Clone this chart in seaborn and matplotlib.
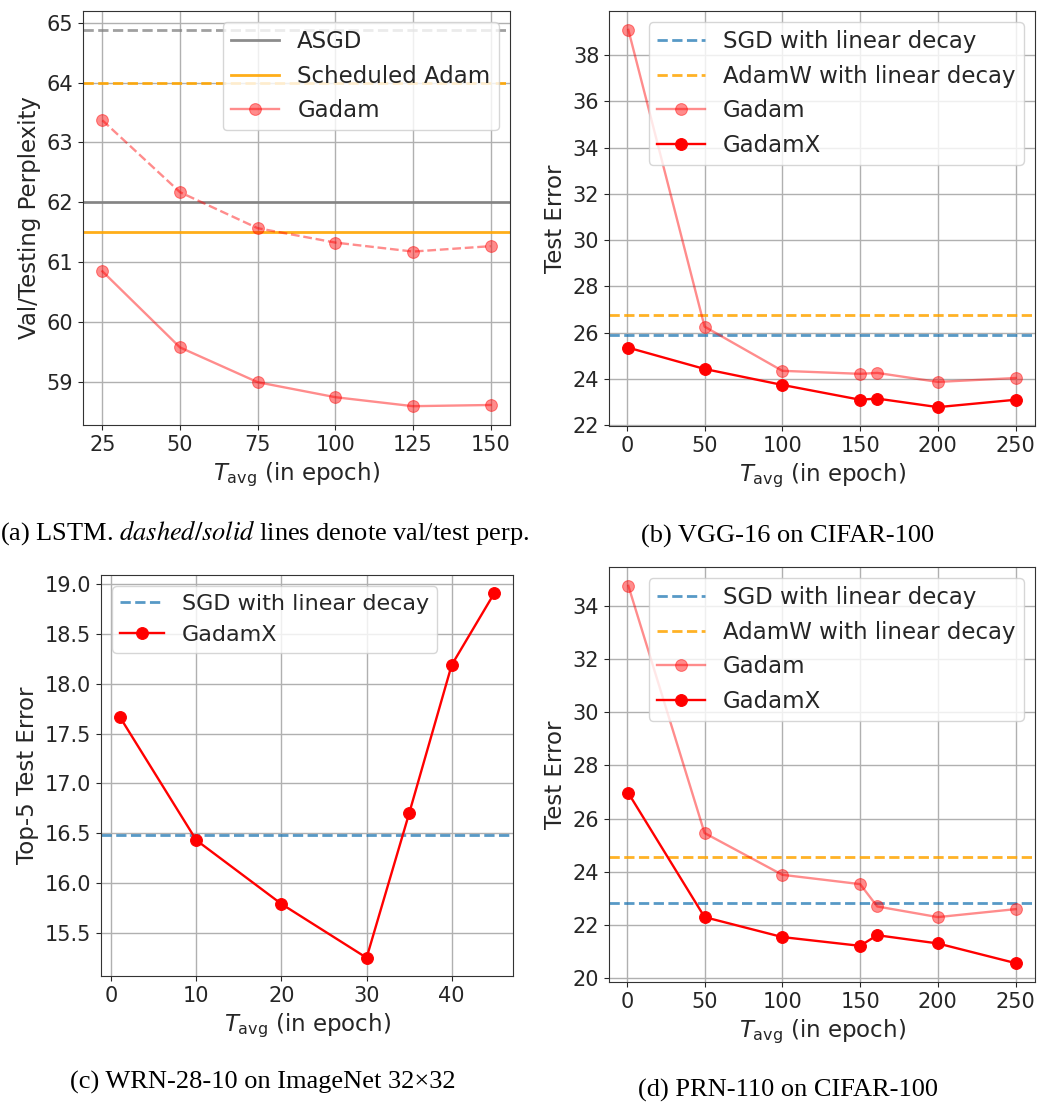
import matplotlib
matplotlib.use('Agg')
import matplotlib.pyplot as plt
from matplotlib.ticker import MultipleLocator
import seaborn as sns

# (a) LSTM
lstm_t = [25, 50, 75, 100, 125, 150]
lstm_gadam_val = [63.37, 62.17, 61.57, 61.33, 61.18, 61.27]
lstm_gadam_test = [60.85, 59.58, 59.0, 58.75, 58.6, 58.62]
lstm_asgd_val = 64.88
lstm_asgd_test = 62.0
lstm_adam_val = 63.99
lstm_adam_test = 61.5

# (b) VGG-16 on CIFAR-100
vgg_t = [1, 50, 100, 150, 161, 200, 250]
vgg_gadam = [39.09, 26.26, 24.35, 24.22, 24.26, 23.87, 24.04]
vgg_gadamx = [25.35, 24.43, 23.74, 23.1, 23.15, 22.78, 23.1]
vgg_sgd = 25.91
vgg_adamw = 26.78

# (c) WRN-28-10 on ImageNet 32x32
wrn_t = [1, 10, 20, 30, 35, 40, 45]
wrn_gadamx = [17.67, 16.43, 15.79, 15.25, 16.7, 18.19, 18.91]
wrn_sgd = 16.48

# (d) PRN-110 on CIFAR-100
prn_t = [1, 50, 100, 150, 161, 200, 250]
prn_gadam = [34.75, 25.46, 23.89, 23.54, 22.7, 22.3, 22.6]
prn_gadamx = [26.96, 22.3, 21.55, 21.22, 21.62, 21.31, 20.57]
prn_sgd = 22.82
prn_adamw = 24.55

W, H = 1038, 1105
fig = plt.figure(figsize=(W / 100, H / 100), dpi=100)
plt.rcParams['font.family'] = ['DejaVu Sans']


def box(l, r, t, b):
    return [l / W, 1 - b / H, (r - l) / W, (b - t) / H]


ax_a = fig.add_axes(box(83, 510, 11, 425))
ax_b = fig.add_axes(box(609, 1035, 11, 426))
ax_c = fig.add_axes(box(101, 513, 575, 976))
ax_d = fig.add_axes(box(609, 1035, 567, 982))

blue = '#1f77b4'
gadam_kw = dict(color='red', alpha=0.45, marker='o', markersize=8.5,
                markeredgecolor='red', linewidth=1.7)
gadamx_kw = dict(color='red', marker='o', markersize=8.5,
                 markeredgecolor='red', linewidth=1.7)
leg_kw = dict(fontsize=16.5, labelspacing=0.5, handlelength=2.1, borderpad=0.35)

# (a)
ax = ax_a
ax.axhline(lstm_asgd_val, color='gray', ls='--', lw=2, alpha=0.75)
ax.axhline(lstm_adam_val, color='orange', ls='--', lw=2, alpha=0.9)
ax.axhline(lstm_asgd_test, color='gray', lw=2, alpha=0.9, label='ASGD')
ax.axhline(lstm_adam_test, color='orange', lw=2, alpha=0.9, label='Scheduled Adam')
sns.lineplot(x=lstm_t, y=lstm_gadam_val, ax=ax, linestyle='--', **gadam_kw)
sns.lineplot(x=lstm_t, y=lstm_gadam_test, ax=ax, label='Gadam', **gadam_kw)
ax.set_ylabel('Val/Testing Perplexity')
ax.xaxis.set_major_locator(MultipleLocator(25))
ax.yaxis.set_major_locator(MultipleLocator(1))
ax.legend(loc='upper right', **leg_kw)

# (b)
ax = ax_b
ax.axhline(vgg_sgd, color=blue, ls='--', lw=2, alpha=0.75, label='SGD with linear decay')
ax.axhline(vgg_adamw, color='orange', ls='--', lw=2, alpha=0.85, label='AdamW with linear decay')
sns.lineplot(x=vgg_t, y=vgg_gadam, ax=ax, label='Gadam', **gadam_kw)
sns.lineplot(x=vgg_t, y=vgg_gadamx, ax=ax, label='GadamX', **gadamx_kw)
ax.set_ylabel('Test Error')
ax.xaxis.set_major_locator(MultipleLocator(50))
ax.yaxis.set_major_locator(MultipleLocator(2))
ax.legend(loc='upper right', **leg_kw)

# (c)
ax = ax_c
ax.axhline(wrn_sgd, color=blue, ls='--', lw=2, alpha=0.75, label='SGD with linear decay')
sns.lineplot(x=wrn_t, y=wrn_gadamx, ax=ax, label='GadamX', **gadamx_kw)
ax.set_ylabel('Top-5 Test Error')
ax.xaxis.set_major_locator(MultipleLocator(10))
ax.yaxis.set_major_locator(MultipleLocator(0.5))
ax.legend(loc='upper left', **dict(leg_kw, fontsize=16, handlelength=2.0))

# (d)
ax = ax_d
ax.axhline(prn_sgd, color=blue, ls='--', lw=2, alpha=0.75, label='SGD with linear decay')
ax.axhline(prn_adamw, color='orange', ls='--', lw=2, alpha=0.85, label='AdamW with linear decay')
sns.lineplot(x=prn_t, y=prn_gadam, ax=ax, label='Gadam', **gadam_kw)
sns.lineplot(x=prn_t, y=prn_gadamx, ax=ax, label='GadamX', **gadamx_kw)
ax.set_ylabel('Test Error')
ax.xaxis.set_major_locator(MultipleLocator(50))
ax.yaxis.set_major_locator(MultipleLocator(2))
ax.legend(loc='upper right', **leg_kw)

for ax in [ax_a, ax_b, ax_c, ax_d]:
    ax.grid(True, color='#b0b0b0', lw=1)
    ax.set_axisbelow(True)
    ax.tick_params(labelsize=15, colors='#262626')
    ax.set_xlabel(r'$T_{\rm avg}$ (in epoch)', fontsize=16.5, color='#262626')
    ax.yaxis.label.set_size(16.5)
    ax.yaxis.label.set_color('#262626')
    for s in ax.spines.values():
        s.set_color('#333333')
    for t in ax.get_legend().get_texts():
        t.set_color('#262626')

cap = dict(ha='center', va='center', fontsize=19, family='Liberation Serif',
           math_fontfamily='stix')
fig.text(265 / W, 1 - 533 / H,
         r'(a) LSTM. $\mathit{dashed/solid}$ lines denote val/test perp.', **cap)
fig.text(788 / W, 1 - 536 / H, '(b) VGG-16 on CIFAR-100', **cap)
fig.text(263 / W, 1 - 1082 / H, '(c) WRN-28-10 on ImageNet 32\u00d732', **cap)
fig.text(788 / W, 1 - 1090 / H, '(d) PRN-110 on CIFAR-100', **cap)

fig.savefig('out.png', dpi=100)
